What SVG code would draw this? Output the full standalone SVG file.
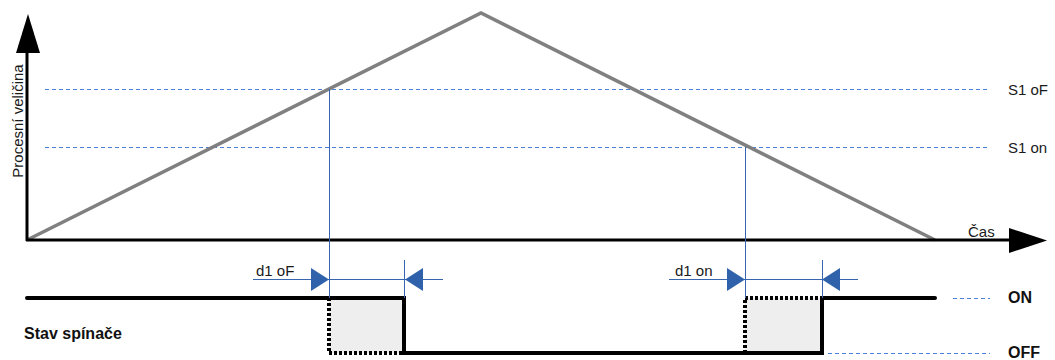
<svg xmlns="http://www.w3.org/2000/svg" width="1055" height="360" viewBox="0 0 1055 360">
<style>
.lbl{font-family:"Liberation Sans",Arial,sans-serif;font-size:15px;fill:#1a1a1a}
.bold{font-family:"Liberation Sans",Arial,sans-serif;font-size:16px;font-weight:bold;fill:#111}
.ref{stroke:#4a80d6;stroke-width:1;stroke-dasharray:4,3;fill:none}
.thin{stroke:#3865b0;stroke-width:1;fill:none}
.arr{fill:#2f62aa}
.axis{stroke:#000;stroke-width:3;fill:none}
.sw{stroke:#000;stroke-width:4;fill:none;stroke-linejoin:miter}
.dot{stroke:#000;stroke-width:4;fill:none;stroke-dasharray:3,2}
.box{fill:#eeeeee;stroke:none}
</style>
<rect width="1055" height="360" fill="#fff"/>
<g id="refs">
  <line class="ref" x1="45" y1="89.5" x2="990" y2="89.5"/>
  <line class="ref" x1="45" y1="147.5" x2="990" y2="147.5"/>
  <line class="ref" x1="953" y1="298.5" x2="990" y2="298.5"/>
  <line class="ref" x1="828" y1="353.5" x2="990" y2="353.5"/>
</g>
<g id="process">
  <polyline points="27,240 481,13 935,240" fill="none" stroke="#808080" stroke-width="3.5"/>
</g>
<g id="axes">
  <line class="axis" x1="27" y1="50" x2="27" y2="241"/>
  <polygon points="28,14 16,53 40,53" fill="#000"/>
  <line class="axis" x1="26" y1="240" x2="1012" y2="240"/>
  <polygon points="1009,228 1047,240.5 1009,253" fill="#000"/>
</g>
<g id="switch">
  <rect class="box" x="329" y="298" width="75" height="55"/>
  <rect class="box" x="745" y="298" width="77" height="55"/>
  <polyline class="sw" points="27,298 404,298 404,353 822,353 822,298 935,298" stroke-linecap="round"/>
  <polyline class="dot" points="329,298 329,353 404,353"/>
  <polyline class="dot" points="745,353 745,298 822,298"/>
</g>
<g id="connectors">
  <line class="thin" x1="329.5" y1="89" x2="329.5" y2="298"/>
  <line class="thin" x1="404.5" y1="260" x2="404.5" y2="298"/>
  <line class="thin" x1="745.5" y1="147" x2="745.5" y2="298"/>
  <line class="thin" x1="822.5" y1="260" x2="822.5" y2="298"/>
  <line class="thin" x1="253" y1="279.5" x2="443" y2="279.5"/>
  <line class="thin" x1="669" y1="279.5" x2="858" y2="279.5"/>
  <polygon class="arr" points="311,268 329,279.5 311,291"/>
  <polygon class="arr" points="423,268 405,279.5 423,291"/>
  <polygon class="arr" points="727,268 745,279.5 727,291"/>
  <polygon class="arr" points="840,268 822,279.5 840,291"/>
</g>
<g id="labels">
  <text class="lbl" transform="translate(23,121) rotate(-90)" text-anchor="middle">Procesní veličina</text>
  <text class="lbl" x="1008" y="95">S1 oF</text>
  <text class="lbl" x="1008" y="153">S1 on</text>
  <text class="lbl" x="968" y="237">Čas</text>
  <text class="lbl" x="256" y="276">d1 oF</text>
  <text class="lbl" x="675" y="276">d1 on</text>
  <text class="bold" x="24" y="339">Stav spínače</text>
  <text class="bold" x="1008" y="303">ON</text>
  <text class="bold" x="1008" y="358">OFF</text>
</g>
</svg>
